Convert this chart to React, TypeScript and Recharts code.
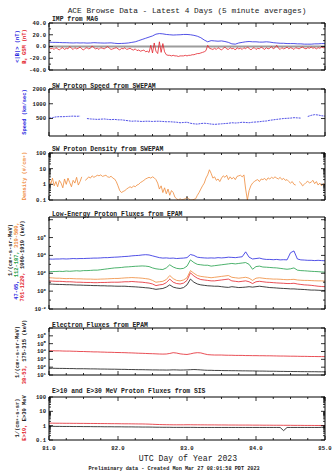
import React from 'react';
import { LineChart, Line, XAxis, YAxis, ReferenceLine } from 'recharts';

const W = 334;
const H = 472;
const PL = 49;
const PR = 325;
const FONT = '"Liberation Mono", "DejaVu Sans Mono", monospace';

const BLUE = '#2626e0';
const RED = '#e3222b';
const GREEN = '#1f9e48';
const ORANGE = '#ef8a3a';
const BLACK = '#111111';

// sample times (day of year 2023)
const days5 = Array.from({ length: 81 }, (_, i) => +(81 + i * 0.05).toFixed(3));
const days25 = Array.from({ length: 161 }, (_, i) => +(81 + i * 0.025).toFixed(4));

const xTicks = [81, 81.25, 81.5, 81.75, 82, 82.25, 82.5, 82.75, 83, 83.25, 83.5, 83.75, 84, 84.25, 84.5, 84.75, 85];
const xMajor = [81, 82, 83, 84, 85];

// IMF |B| (nT)
const bTotal = [
  7.5, 7, 7, 6.8, 6.5, 6.5, 6.2, 6, 6.3,
  6, 6.2, 5.8, 6, 6.5, 6.2, 6, 5.8, 6, 6.2, 5.5,
  5, 5.2, 5.5, 6, 7, 8,
  10, 12, 14, 16, 18, 21,
  22, 21.5, 20.5, 20, 19.5, 19.8, 20, 20.5,
  20.5, 20, 19, 17.5, 15, 11,
  8, 10, 9.5, 9, 9.5, 8.5, 7,
  4.5, 4, 6, 7, 8, 8.5, 8,
  8, 7.5, 7.5, 8, 7.5, 6.5, 6, 5.5, 5.5, 5, 5,
  5, 4.5, 4.5, 4, 4, 4, 4.5, 4.5, 5, 5,
];
// IMF Bz GSM (nT)
const bz = [
  -1, -4, -3, -5, -2, -4, -6, -3, -2, -5, -3, -4, 0, -3, -5, -2,
  -4, -3, -1, -4, -6, -3, -2, -4, -3, 1, -2, -4, -3, -5, -2, -3,
  -4, -2, 0, -3, -5, -4, -3, -2, -4, -6, -3, -4, -2, -5, -4, -3,
  -5, -6, -4, -7, -6, -8, -7, -6, -9, -8, -10, 2, -11, 6, -8, -12,
  8, -10, 5, -9, -14, -15, -15, -16, -15, -16, -16, -17, -16, -16, -16, -15,
  -16, -15, -15, -14, -14, -13, -12, -12, -11, -10, -9, -7, 2, -3, -4, -5,
  -3, -5, -2, -4, -6, -3, -1, -4, -5, -2, -4, -3, -6, -2, -4, -3,
  -5, -2, -4, -1, -3, -6, -3, -2, -5, -3, -4, -1, -3, -5, -2, -4,
  -3, 0, -4, -2, 2, -3, -5, -2, -4, -3, -1, -4, -2, -3, -5, -2,
  -3, -4, -2, -1, -3, -4, -2, -3, -1, -3, -2, -4, -2, -3, -1, -2, -2,
];
// SW proton speed (km/s)
const speed = [
  510, 520, 540, 545, 545, 550, 555, 560, 555, 560,
  null,
  500, 490, 485, 480, 485, 490, 480, 475, 480,
  470, 470, 460, 450, 440, 445, 440, 435, 440, 440,
  435, 440, 440, 435, 430, 430, 425, 420, 410, 415,
  420, 400, 390, 385, 395, 400, 395, 385, 380, 385,
  390, 395, 400, 410, 405, 410, 420, 415, 410, 420,
  425, 430, 440, 445, 460, 470, 480, 490, 500, 505,
  510, 520, 515, 510, null, 550, 580, 600, 590, 570, 560,
];
// SW proton density (#/cm3)
const density = [
  2.0, 1.0, 2.5, 0.8, 1.5, 0.7, 1.8, 1.2, 0.6, 2.2,
  1.0, 2.5, 1.3, 0.7, 1.8, 1.2, 2.8, 0.9, 1.5, 3.0,
  null, 1.8, 2.2, 3.0, 2.5, 3.5, 2.8, 3.2, 3.8, 3.5,
  4.0, 3.2, 3.5, 3.8, 3.0, 2.8, 3.3, 2.5, 2.2, 1.5,
  0.8, 0.4, 0.3, 0.35, 0.4, 0.5, 0.6, 0.7, 0.6, 0.8,
  0.7, 0.9, 1.0, 1.3, 1.5, 1.8, 2.2, 2.5, 2.8, 2.5,
  3.0, 2.6, 2.0, 1.2, 0.5, 0.8, 0.3, 0.6, 0.25, 0.5,
  0.2, 0.4, 0.3, 0.15, 0.12, 0.1, 0.12, 0.1, 0.11, 0.12,
  0.15, 0.12, 0.1, 0.1, 0.11, 0.12, 0.2, 0.3, 0.5, 0.8,
  1.2, 2.5, 4.0, 8.5, 5.0, 2.5, 3.0, 1.8, 2.2, 1.5,
  2.5, 3.5, 2.8, 3.8, 2.0, 3.0, 2.2, 2.8, 2.0, 3.2,
  3.5, 3.8, 3.0, 4.0, 0.5, 0.1, 0.4, 0.8, 1.2, 1.5,
  1.8, 2.0, 1.5, 2.2, 2.0, 2.4, 1.8, 2.6, 2.2, 2.8,
  2.4, 3.0, 2.5, 2.2, 2.8, 2.0, 2.4, 1.8, 2.0, 1.5,
  1.2, 1.5, 1.0, 0.9, null, 1.5, 1.2, 0.8, 1.0, 1.3,
  1.6, 1.2, 1.4, 1.8, 1.1, 1.5, 0.9, 1.2, 0.8, 1.1, 1.0,
];
// EPAM low-energy proton fluxes, log10 of 1/(cm2-s-sr-MeV)
const p47Exp = [
  3.6, 3.58, 3.6, 3.6, 3.62, 3.6, 3.62, 3.65, 3.63, 3.65,
  3.65, 3.67, 3.68, 3.7, 3.7, 3.72, 3.75, 3.75, 3.78, 3.8,
  3.82, 3.85, 3.88, 3.9, 3.95, 3.98, 4.0, 4.05, 4.08, 4.05,
  3.95, 3.85, 3.75, 3.7, 3.72, 3.68, 3.7, 3.65, 3.68, 3.7,
  3.75, 4.1, 4.0, 3.8, 3.75, 3.72, 3.7, 3.72, 3.7, 3.75,
  3.72, 3.75, 3.8, 3.78, 3.75, 3.8, 3.85, 4.4, 3.8, 3.6,
  3.65, 3.7, 3.6, 3.55, 3.55, 3.52, 3.55, 3.5, 3.52, 3.5,
  4.3, 4.5, 3.6, 3.5, 3.48, 3.45, 3.45, 3.42, 3.45, 3.42, 3.4,
];
const p112Exp = [
  2.15, 2.2, 2.2, 2.22, 2.2, 2.25, 2.22, 2.25, 2.28, 2.25,
  2.3, 2.3, 2.32, 2.35, 2.35, 2.4, 2.45, 2.5, 2.55, 2.6,
  2.62, 2.65, 2.7, 2.72, 2.75, 2.78, 2.8, 2.82, 2.8, 2.75,
  2.6, 2.5, 2.45, 2.42, 2.6, 2.95, 2.7, 2.55, 2.5, 2.55,
  2.8, 3.5, 3.2, 3.0, 2.95, 2.9, 2.9, 2.8, 2.85, 2.9,
  2.95, 3.0, 3.05, 3.1, 3.05, 3.1, 3.15, 3.2, 3.0, 2.45,
  2.75, 2.8, 2.7, 2.68, 2.65, 2.62, 2.6, 2.55, 2.5, 2.45,
  2.5, 2.6, 2.35, 2.3, 2.28, 2.25, 2.22, 2.2, 2.18, 2.15, 2.12,
];
const p310Exp = [
  1.5, 1.48, 1.45, 1.45, 1.42, 1.4, 1.42, 1.4, 1.38, 1.38,
  1.36, 1.35, 1.35, 1.33, 1.33, 1.35, 1.36, 1.38, 1.4, 1.42,
  1.42, 1.45, 1.48, 1.5, 1.52, 1.5, 1.48, 1.45, 1.4, 1.35,
  1.2, 1.0, 1.05, 1.1, 1.3, 1.75, 1.4, 1.2, 1.15, 1.25,
  1.5, 2.3, 2.0, 1.75, 1.65, 1.6, 1.55, 1.5, 1.55, 1.6,
  1.65, 1.7, 1.75, 1.55, 1.5, 1.45, 1.5, 1.55, 1.45, 1.2,
  1.45, 1.5, 1.45, 1.4, 1.38, 1.35, 1.35, 1.33, 1.3, 1.28,
  1.3, 1.32, 1.25, 1.22, 1.2, 1.2, 1.18, 1.16, 1.15, 1.15, 1.12,
];
const p761Exp = [
  1.15, 1.12, 1.1, 1.1, 1.08, 1.05, 1.05, 1.03, 1.0, 1.0,
  0.98, 0.97, 0.97, 0.95, 0.95, 0.97, 0.97, 0.98, 1.0, 1.0,
  1.0, 1.02, 1.05, 1.05, 1.08, 1.05, 1.02, 1.0, 0.95, 0.9,
  0.8, 0.62, 0.7, 0.75, 0.95, 1.35, 1.0, 0.85, 0.8, 0.9,
  1.2, 2.05, 1.7, 1.45, 1.3, 1.25, 1.2, 1.15, 1.15, 1.2,
  1.25, 1.3, 1.35, 1.15, 1.1, 1.05, 1.1, 1.15, 1.05, 0.85,
  1.05, 1.1, 1.05, 1.0, 0.98, 0.95, 0.92, 0.9, 0.88, 0.85,
  0.85, 0.88, 0.8, 0.75, 0.7, 0.68, 0.65, 0.6, 0.55, 0.52, 0.5,
];
const p1060Exp = [
  0.8, 0.78, 0.76, 0.75, 0.74, 0.72, 0.72, 0.7, 0.68, 0.68,
  0.66, 0.65, 0.64, 0.62, 0.62, 0.6, 0.6, 0.58, 0.58, 0.56,
  0.55, 0.55, 0.55, 0.52, 0.5, 0.48, 0.45, 0.42, 0.38, 0.35,
  0.28, 0.2, 0.25, 0.3, 0.45, 0.7, 0.45, 0.35, 0.3, 0.4,
  0.7, 1.35, 1.0, 0.8, 0.7, 0.65, 0.6, 0.58, 0.55, 0.55,
  0.5, 0.45, 0.42, 0.5, 0.45, 0.4, 0.42, 0.45, 0.5, 0.45,
  0.5, 0.55, 0.5, 0.45, 0.4, 0.38, 0.35, 0.32, 0.3, 0.28,
  0.25, 0.25, 0.22, 0.2, 0.18, 0.15, 0.12, 0.12, 0.1, 0.08, 0.07,
];
// EPAM electron fluxes, log10
const e38Exp = [
  4.1, 4.1, 4.08, 4.08, 4.06, 4.05, 4.05, 4.03, 4.02, 4.0,
  4.0, 3.98, 3.97, 3.95, 3.95, 3.93, 3.92, 3.9, 3.9, 3.88,
  3.87, 3.86, 3.85, 3.83, 3.82, 3.8, 3.78, 3.77, 3.75, 3.73,
  3.72, 3.7, 3.68, 3.67, 3.68, 3.75, 3.85, 3.8, 3.7, 3.65,
  3.62, 3.7, 3.8, 3.85, 3.82, 3.7, 3.6, 3.57, 3.55, 3.55,
  3.55, 3.53, 3.52, 3.52, 3.5, 3.5, 3.5, 3.48, 3.48, 3.47,
  3.47, 3.46, 3.46, 3.45, 3.45, 3.44, 3.43, 3.42, 3.42, 3.41,
  3.4, 3.4, 3.39, 3.38, 3.38, 3.37, 3.36, 3.36, 3.35, 3.35, 3.34,
];
const e175Exp = [
  1.85, 1.86, 1.85, 1.84, 1.84, 1.83, 1.82, 1.82, 1.8, 1.8,
  1.8, 1.79, 1.78, 1.78, 1.77, 1.76, 1.76, 1.75, 1.74, 1.74,
  1.73, 1.72, 1.72, 1.7, 1.7, 1.69, 1.68, 1.68, 1.67, 1.66,
  1.65, 1.65, 1.64, 1.64, 1.63, 1.64, 1.66, 1.65, 1.63, 1.64,
  1.65, 1.68, 1.7, 1.68, 1.65, 1.62, 1.6, 1.6, 1.58, 1.58,
  1.57, 1.56, 1.56, 1.55, 1.55, 1.54, 1.53, 1.53, 1.52, 1.52,
  1.51, 1.5, 1.5, 1.49, 1.48, 1.48, 1.47, 1.46, 1.46, 1.45,
  1.45, 1.44, 1.44, 1.43, 1.43, 1.42, 1.42, 1.42, 1.41, 1.41, 1.4,
];
// SIS proton fluxes 1/(cm2-s-sr)
const sis10 = [
  1.5, 1.5, 1.48, 1.48, 1.47, 1.46, 1.46, 1.45, 1.45, 1.44,
  1.44, 1.43, 1.42, 1.42, 1.41, 1.4, 1.4, 1.39, 1.38, 1.38,
  1.37, 1.36, 1.35, 1.35, 1.34, 1.33, 1.32, 1.32, 1.3, 1.28,
  1.25, 1.22, 1.2, 1.18, 1.17, 1.16, 1.15, 1.15, 1.15, 1.15,
  1.16, 1.16, 1.15, 1.15, 1.14, 1.14, 1.13, 1.13, 1.13, 1.12,
  1.12, 1.12, 1.11, 1.11, 1.11, 1.1, 1.1, 1.1, 1.1, 1.09,
  1.09, 1.09, 1.08, 1.08, 1.08, 1.07, 1.07, 1.07, 1.06, 1.06,
  1.06, 1.05, 1.05, 1.05, 1.04, 1.04, 1.04, 1.03, 1.03, 1.03, 1.02,
];
const sis30 = [
  0.9, 0.9, 0.89, 0.89, 0.88, 0.88, 0.88, 0.87, 0.87, 0.87,
  0.86, 0.86, 0.86, 0.85, 0.85, 0.85, 0.84, 0.84, 0.84, 0.83,
  0.83, 0.83, 0.82, 0.82, 0.82, 0.81, 0.81, 0.8, 0.8, 0.8,
  0.79, 0.78, 0.78, 0.77, 0.77, 0.77, 0.76, 0.76, 0.76, 0.76,
  0.76, 0.76, 0.76, 0.75, 0.75, 0.75, 0.75, 0.75, 0.75, 0.75,
  0.75, 0.75, 0.75, 0.75, 0.75, 0.75, 0.75, 0.75, 0.75, 0.75,
  0.75, 0.75, 0.75, 0.75, 0.75, 0.75, 0.75, 0.75, 0.45, 0.75,
  0.75, 0.75, 0.75, 0.75, 0.75, 0.75, 0.75, 0.75, 0.75, 0.76, 0.76,
];

type Pt = { day: number; v: number | null };
const pts = (days: number[], vals: (number | null)[]): Pt[] => days.map((d, i) => ({ day: d, v: vals[i] }));
const fromExp = (vals: number[]) => vals.map((e) => Math.pow(10, e));

const near = (a: number, b: number) => Math.abs(a - b) <= Math.abs(b) * 1e-6 + 1e-9;

function makeXTick(side: 'bottom' | 'top', showLabel: boolean) {
  return (p: any) => {
    const v = p.payload.value;
    const major = xMajor.some((m) => near(v, m));
    const len = major ? 4 : 2;
    const dir = side === 'bottom' ? -1 : 1;
    return (
      <g>
        <line x1={p.x} x2={p.x} y1={p.y} y2={p.y + dir * len} stroke="#000" strokeWidth={0.8} />
        {showLabel && major ? (
          <text x={p.x} y={p.y + 10} textAnchor="middle" fontSize={5.6} fontFamily={FONT} fontWeight="bold" fill="#222">
            {v.toFixed(1)}
          </text>
        ) : null}
      </g>
    );
  };
}

function makeYTick(side: 'left' | 'right', majors: number[], labels: number[], fmt: (v: number) => React.ReactNode) {
  return (p: any) => {
    const v = p.payload.value;
    const major = majors.some((m) => near(v, m));
    const len = major ? 4 : 2;
    const dir = side === 'left' ? 1 : -1;
    const lab = side === 'left' && labels.some((m) => near(v, m));
    return (
      <g>
        <line x1={p.x} x2={p.x + dir * len} y1={p.y} y2={p.y} stroke="#000" strokeWidth={0.8} />
        {lab ? (
          <text x={p.x - 3} y={p.y} dy="0.35em" textAnchor="end" fontSize={5.6} fontFamily={FONT} fontWeight="bold" fill="#222">
            {fmt(v)}
          </text>
        ) : null}
      </g>
    );
  };
}

const fmtFixed = (v: number) => v.toFixed(1);
const fmtPlain = (v: number) => String(v);
const fmtPow = (v: number) => (
  <>
    10
    <tspan dy={-2.4} fontSize={4}>
      {Math.round(Math.log10(v))}
    </tspan>
  </>
);

type Series = { data: Pt[]; color: string; dash?: string };
type PanelProps = {
  top: number;
  bottom: number;
  domain: [number, number];
  scale: 'linear' | 'log';
  ticks: number[];
  majors: number[];
  labels: number[];
  fmt: (v: number) => React.ReactNode;
  series: Series[];
  showX?: boolean;
  zero?: boolean;
};

function Panel({ top, bottom, domain, scale, ticks, majors, labels, fmt, series, showX, zero }: PanelProps) {
  // each helper axis takes 1px of room, so the margins are reduced by 1
  return (
    <div style={{ position: 'absolute', left: 0, top: 0 }}>
      <LineChart width={W} height={H} margin={{ top: top - 1, bottom: H - bottom - 1, left: PL - 1, right: W - PR - 1 }}>
        <XAxis
          xAxisId="x"
          type="number"
          dataKey="day"
          domain={[81, 85]}
          allowDataOverflow
          ticks={xTicks}
          interval={0}
          orientation="bottom"
          height={1}
          tickSize={0}
          tickMargin={0}
          tickLine={false}
          stroke="#000"
          tick={makeXTick('bottom', !!showX)}
        />
        <XAxis
          xAxisId="xt"
          type="number"
          dataKey="day"
          domain={[81, 85]}
          allowDataOverflow
          ticks={xTicks}
          interval={0}
          orientation="top"
          height={1}
          tickSize={0}
          tickMargin={0}
          tickLine={false}
          stroke="#000"
          tick={makeXTick('top', false)}
        />
        <YAxis
          yAxisId="y"
          type="number"
          scale={scale}
          domain={domain}
          allowDataOverflow
          ticks={ticks}
          interval={0}
          width={1}
          tickSize={0}
          tickMargin={0}
          tickLine={false}
          stroke="#000"
          tick={makeYTick('left', majors, labels, fmt)}
        />
        <YAxis
          yAxisId="yr"
          orientation="right"
          type="number"
          scale={scale}
          domain={domain}
          allowDataOverflow
          ticks={ticks}
          interval={0}
          width={1}
          tickSize={0}
          tickMargin={0}
          tickLine={false}
          stroke="#000"
          tick={makeYTick('right', majors, labels, fmt)}
        />
        {zero ? <ReferenceLine xAxisId="x" yAxisId="y" y={0} stroke="#9c9c9c" strokeWidth={2.2} /> : null}
        {series.map((s, i) => (
          <Line
            key={i}
            xAxisId="x"
            yAxisId="y"
            data={s.data}
            dataKey="v"
            type="linear"
            stroke={s.color}
            strokeWidth={0.8}
            strokeDasharray={s.dash}
            dot={false}
            connectNulls={false}
            isAnimationActive={false}
          />
        ))}
      </LineChart>
    </div>
  );
}

const minorLog = (lo: number, hi: number) => {
  const out: number[] = [];
  for (let d = lo; d < hi; d *= 10) {
    for (let k = 1; k < 10; k++) out.push(+(d * k).toPrecision(3));
  }
  out.push(hi);
  return out;
};

function VLabel({ x, y, children, size = 5.4 }: { x: number; y: number; children: React.ReactNode; size?: number }) {
  return (
    <text
      transform={`translate(${x},${y}) rotate(-90)`}
      textAnchor="middle"
      fontSize={size}
      fontFamily={FONT}
      fontWeight="bold"
    >
      {children}
    </text>
  );
}

export default function App() {
  return (
    <div style={{ position: 'absolute', left: 0, top: 0, width: W, height: H, background: '#fff', overflow: 'hidden' }}>
      <Panel
        top={23}
        bottom={70}
        domain={[-40, 40]}
        scale="linear"
        ticks={[-40, -30, -20, -10, 0, 10, 20, 30, 40]}
        majors={[-40, -20, 0, 20, 40]}
        labels={[-40, -20, 0, 20, 40]}
        fmt={fmtFixed}
        zero
        series={[
          { data: pts(days5, bTotal), color: BLUE },
          { data: pts(days25, bz), color: RED },
        ]}
      />
      <Panel
        top={89}
        bottom={136}
        domain={[220, 2000]}
        scale="log"
        ticks={[500, 1000, 2000]}
        majors={[500, 1000, 2000]}
        labels={[500, 1000, 2000]}
        fmt={fmtPlain}
        series={[{ data: pts(days5, speed), color: BLUE, dash: '2 0.8' }]}
      />
      <Panel
        top={153}
        bottom={200}
        domain={[0.1, 100]}
        scale="log"
        ticks={minorLog(0.1, 100)}
        majors={[0.1, 1, 10, 100]}
        labels={[0.1, 1, 10, 100]}
        fmt={fmtPlain}
        series={[{ data: pts(days25, density), color: ORANGE }]}
      />
      <Panel
        top={217}
        bottom={309}
        domain={[0.01, 2e8]}
        scale="log"
        ticks={[0.01, 0.1, 1, 10, 100, 1e3, 1e4, 1e5, 1e6, 1e7, 1e8]}
        majors={[0.01, 1, 100, 1e4, 1e6, 1e8]}
        labels={[0.01, 1, 100, 1e4, 1e6]}
        fmt={fmtPow}
        series={[
          { data: pts(days5, fromExp(p47Exp)), color: BLUE },
          { data: pts(days5, fromExp(p112Exp)), color: GREEN },
          { data: pts(days5, fromExp(p310Exp)), color: ORANGE },
          { data: pts(days5, fromExp(p761Exp)), color: RED },
          { data: pts(days5, fromExp(p1060Exp)), color: BLACK },
        ]}
      />
      <Panel
        top={328}
        bottom={375}
        domain={[10, 1e7]}
        scale="log"
        ticks={[10, 100, 1e3, 1e4, 1e5, 1e6, 1e7]}
        majors={[10, 100, 1e3, 1e4, 1e5, 1e6, 1e7]}
        labels={[10, 100, 1e3, 1e4, 1e5, 1e6]}
        fmt={fmtPow}
        series={[
          { data: pts(days5, fromExp(e38Exp)), color: RED },
          { data: pts(days5, fromExp(e175Exp)), color: BLACK },
        ]}
      />
      <Panel
        top={397}
        bottom={440}
        domain={[0.1, 100]}
        scale="log"
        ticks={minorLog(0.1, 100)}
        majors={[0.1, 1, 10, 100]}
        labels={[0.1, 1, 10, 100]}
        fmt={fmtPlain}
        showX
        series={[
          { data: pts(days5, sis10), color: RED },
          { data: pts(days5, sis30), color: BLACK },
        ]}
      />

      <svg width={W} height={H} style={{ position: 'absolute', left: 0, top: 0, pointerEvents: 'none' }} fontFamily={FONT}>
        <text x={187} y={13} textAnchor="middle" fontSize={7.8} fill="#222">
          ACE Browse Data - Latest 4 Days (5 minute averages)
        </text>
        <text x={52} y={21} fontSize={6.4} fontWeight="bold" fill="#222">IMP from MAG</text>
        <text x={52} y={87.5} fontSize={6.4} fontWeight="bold" fill="#222">SW Proton Speed from SWEPAM</text>
        <text x={52} y={151} fontSize={6.4} fontWeight="bold" fill="#222">SW Proton Density from SWEPAM</text>
        <text x={52} y={216} fontSize={6.4} fontWeight="bold" fill="#222">Low-Energy Proton Fluxes from EPAM</text>
        <text x={52} y={326.5} fontSize={6.4} fontWeight="bold" fill="#222">Electron Fluxes from EPAM</text>
        <text x={52} y={393} fontSize={6.4} fontWeight="bold" fill="#222">E&gt;10 and E&gt;30 MeV Proton Fluxes from SIS</text>

        <VLabel x={19} y={46.5}>
          <tspan fill={BLUE}>&lt;|B|&gt; (nT)</tspan>
        </VLabel>
        <VLabel x={26} y={46.5}>
          <tspan fill={RED}>B</tspan>
          <tspan fill={RED} dy={1.3} fontSize={3.8}>z</tspan>
          <tspan fill={RED} dy={-1.3}> GSM (nT)</tspan>
        </VLabel>
        <VLabel x={26} y={112}>
          <tspan fill={BLUE}>Speed (km/sec)</tspan>
        </VLabel>
        <VLabel x={26} y={176}>
          <tspan fill={ORANGE}>Density (#/cm³)</tspan>
        </VLabel>
        <VLabel x={11.5} y={250}>
          <tspan fill="#222">1/(cm²-s-sr-MeV)</tspan>
        </VLabel>
        <VLabel x={17.5} y={261}>
          <tspan fill={BLUE}>47-65, </tspan>
          <tspan fill={GREEN}>112-187, </tspan>
          <tspan fill={ORANGE}>310-580,</tspan>
        </VLabel>
        <VLabel x={23.5} y={261}>
          <tspan fill={RED}>761-1220, </tspan>
          <tspan fill="#222">1060-1910 (keV)</tspan>
        </VLabel>
        <VLabel x={19} y={352}>
          <tspan fill="#222">1/(cm²-s-sr-MeV)</tspan>
        </VLabel>
        <VLabel x={25.5} y={352}>
          <tspan fill={RED}>38-53, </tspan>
          <tspan fill="#222">175-315 (keV)</tspan>
        </VLabel>
        <VLabel x={19} y={418}>
          <tspan fill="#222">1/(cm²-s-sr)</tspan>
        </VLabel>
        <VLabel x={25.5} y={418}>
          <tspan fill={RED}>E&gt;10, </tspan>
          <tspan fill="#222">E&gt;30 MeV</tspan>
        </VLabel>

        <text x={188} y={461} textAnchor="middle" fontSize={8.2} fill="#222">UTC Day of Year 2023</text>
        <text x={174} y={470} textAnchor="middle" fontSize={5.2} fontWeight="bold" fill="#222">
          Preliminary data - Created Mon Mar 27 08:01:58 PDT 2023
        </text>
      </svg>
    </div>
  );
}
